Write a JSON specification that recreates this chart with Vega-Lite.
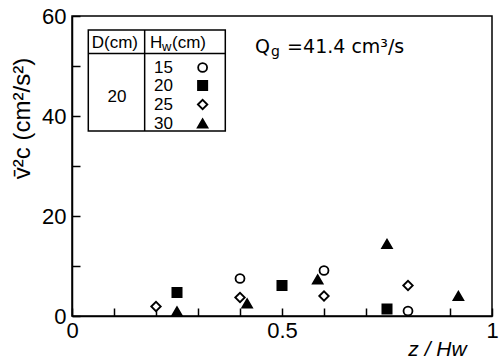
{
  "$schema": "https://vega.github.io/schema/vega-lite/v6.json",
  "width": 420,
  "height": 300,
  "autosize": "none",
  "padding": {"left": 72, "top": 16, "right": 7, "bottom": 48},
  "background": "white",
  "config": {
    "view": {"stroke": "black", "strokeWidth": 1.5},
    "font": "Liberation Sans",
    "legend": {"disable": true},
    "axis": {"grid": false, "domainColor": "black", "domainWidth": 1.5, "tickColor": "black", "tickWidth": 1.5, "labelColor": "black", "titleColor": "black", "labelFlush": false, "labelOverlap": false}
  },
  "datasets": {
    "points": [
      {"Hw": "15", "z": 0.40, "v": 7.5},
      {"Hw": "15", "z": 0.60, "v": 9.1},
      {"Hw": "15", "z": 0.80, "v": 1.0},
      {"Hw": "20", "z": 0.25, "v": 4.7},
      {"Hw": "20", "z": 0.50, "v": 6.1},
      {"Hw": "20", "z": 0.75, "v": 1.4},
      {"Hw": "25", "z": 0.20, "v": 1.9},
      {"Hw": "25", "z": 0.40, "v": 3.7},
      {"Hw": "25", "z": 0.60, "v": 4.0},
      {"Hw": "25", "z": 0.80, "v": 6.1},
      {"Hw": "30", "z": 0.25, "v": 0.9},
      {"Hw": "30", "z": 0.417, "v": 2.5},
      {"Hw": "30", "z": 0.585, "v": 7.3},
      {"Hw": "30", "z": 0.75, "v": 14.4},
      {"Hw": "30", "z": 0.92, "v": 4.0}
    ],
    "one": [{}]
  },
  "layer": [
    {
      "data": {"name": "points"},
      "mark": {"type": "point", "filled": false, "stroke": "black", "strokeWidth": 1.8, "opacity": 1},
      "encoding": {
        "x": {
          "field": "z", "type": "quantitative",
          "scale": {"domain": [0, 1], "nice": false},
          "axis": {
            "values": [0, 0.1, 0.2, 0.3, 0.4, 0.5, 0.6, 0.7, 0.8, 0.9, 1],
            "labelExpr": "datum.value == 0 ? '0' : datum.value == 0.5 ? '0.5' : datum.value == 1 ? '1' : ''",
            "tickSize": -8, "labelPadding": 12, "labelFontSize": 22,
            "title": "z / Hw", "titleFontSize": 21, "titleFontStyle": "italic", "titleFontWeight": "normal",
            "titleX": 365, "titleY": 39, "titleAlign": "center", "titleBaseline": "alphabetic"
          }
        },
        "y": {
          "field": "v", "type": "quantitative",
          "scale": {"domain": [0, 60], "nice": false},
          "axis": {
            "values": [0, 10, 20, 30, 40, 50, 60],
            "labelExpr": "datum.value % 20 == 0 ? datum.label : ''",
            "tickSize": -8, "labelPadding": 14, "labelFontSize": 22,
            "title": "v\u0304\u00b2c (cm\u00b2/s\u00b2)", "titleFontSize": 24, "titleFontWeight": "normal",
            "titleAngle": -90, "titleX": -43, "titleY": 102, "titleAlign": "center", "titleBaseline": "alphabetic"
          }
        },
        "shape": {"field": "Hw", "type": "nominal", "scale": {"domain": ["15", "20", "25", "30"], "range": ["circle", "square", "diamond", "triangle-up"]}},
        "fill": {"field": "Hw", "type": "nominal", "scale": {"domain": ["15", "20", "25", "30"], "range": ["white", "black", "white", "black"]}},
        "size": {"field": "Hw", "type": "nominal", "scale": {"domain": ["15", "20", "25", "30"], "range": [80, 95, 155, 125]}}
      }
    },
    {
      "data": {"name": "one"},
      "mark": {"type": "rect", "fill": "white", "fillOpacity": 0, "stroke": "black", "strokeWidth": 1.5},
      "encoding": {
        "x": {"datum": 0.0388, "type": "quantitative"},
        "x2": {"datum": 0.365},
        "y": {"datum": 57.2, "type": "quantitative"},
        "y2": {"datum": 37.0}
      }
    },
    {
      "data": {"name": "one"},
      "mark": {"type": "rule", "stroke": "black", "strokeWidth": 1.5},
      "encoding": {
        "x": {"datum": 0.0388, "type": "quantitative"},
        "x2": {"datum": 0.365},
        "y": {"datum": 52.5, "type": "quantitative"}
      }
    },
    {
      "data": {"name": "one"},
      "mark": {"type": "rule", "stroke": "black", "strokeWidth": 1.5},
      "encoding": {
        "x": {"datum": 0.173, "type": "quantitative"},
        "y": {"datum": 57.2, "type": "quantitative"},
        "y2": {"datum": 37.0}
      }
    },
    {
      "data": {"name": "one"},
      "mark": {"type": "text", "fontSize": 17, "align": "center", "baseline": "middle", "color": "black"},
      "encoding": {
        "x": {"datum": 0.102, "type": "quantitative"},
        "y": {"datum": 54.6, "type": "quantitative"},
        "text": {"value": "D(cm)"}
      }
    },
    {
      "data": {"name": "one"},
      "mark": {"type": "text", "fontSize": 17, "align": "left", "baseline": "middle", "color": "black", "dx": -32},
      "encoding": {
        "x": {"datum": 0.262, "type": "quantitative"},
        "y": {"datum": 54.6, "type": "quantitative"},
        "text": {"value": "H"}
      }
    },
    {
      "data": {"name": "one"},
      "mark": {"type": "text", "fontSize": 13, "align": "left", "baseline": "middle", "color": "black", "dx": -20, "dy": 4},
      "encoding": {
        "x": {"datum": 0.262, "type": "quantitative"},
        "y": {"datum": 54.6, "type": "quantitative"},
        "text": {"value": "w"}
      }
    },
    {
      "data": {"name": "one"},
      "mark": {"type": "text", "fontSize": 17, "align": "left", "baseline": "middle", "color": "black", "dx": -10},
      "encoding": {
        "x": {"datum": 0.262, "type": "quantitative"},
        "y": {"datum": 54.6, "type": "quantitative"},
        "text": {"value": "(cm)"}
      }
    },
    {
      "data": {"name": "one"},
      "mark": {"type": "text", "fontSize": 17, "align": "center", "baseline": "middle", "color": "black"},
      "encoding": {
        "x": {"datum": 0.107, "type": "quantitative"},
        "y": {"datum": 43.9, "type": "quantitative"},
        "text": {"value": "20"}
      }
    },
    {
      "data": {"name": "one"},
      "encoding": {"y": {"datum": 49.7, "type": "quantitative"}},
      "layer": [
        {"mark": {"type": "text", "fontSize": 17, "align": "center", "baseline": "middle", "color": "black"},
         "encoding": {"x": {"datum": 0.218, "type": "quantitative"}, "text": {"value": "15"}}},
        {"mark": {"type": "point", "filled": false, "stroke": "black", "strokeWidth": 1.8, "opacity": 1},
         "encoding": {"x": {"datum": 0.311, "type": "quantitative"}, "shape": {"datum": "15", "type": "nominal"}, "fill": {"datum": "15", "type": "nominal"}, "size": {"datum": "15", "type": "nominal"}}}
      ]
    },
    {
      "data": {"name": "one"},
      "encoding": {"y": {"datum": 46.1, "type": "quantitative"}},
      "layer": [
        {"mark": {"type": "text", "fontSize": 17, "align": "center", "baseline": "middle", "color": "black"},
         "encoding": {"x": {"datum": 0.218, "type": "quantitative"}, "text": {"value": "20"}}},
        {"mark": {"type": "point", "filled": false, "stroke": "black", "strokeWidth": 1.8, "opacity": 1},
         "encoding": {"x": {"datum": 0.311, "type": "quantitative"}, "shape": {"datum": "20", "type": "nominal"}, "fill": {"datum": "20", "type": "nominal"}, "size": {"datum": "20", "type": "nominal"}}}
      ]
    },
    {
      "data": {"name": "one"},
      "encoding": {"y": {"datum": 42.3, "type": "quantitative"}},
      "layer": [
        {"mark": {"type": "text", "fontSize": 17, "align": "center", "baseline": "middle", "color": "black"},
         "encoding": {"x": {"datum": 0.218, "type": "quantitative"}, "text": {"value": "25"}}},
        {"mark": {"type": "point", "filled": false, "stroke": "black", "strokeWidth": 1.8, "opacity": 1},
         "encoding": {"x": {"datum": 0.311, "type": "quantitative"}, "shape": {"datum": "25", "type": "nominal"}, "fill": {"datum": "25", "type": "nominal"}, "size": {"datum": "25", "type": "nominal"}}}
      ]
    },
    {
      "data": {"name": "one"},
      "encoding": {"y": {"datum": 38.5, "type": "quantitative"}},
      "layer": [
        {"mark": {"type": "text", "fontSize": 17, "align": "center", "baseline": "middle", "color": "black"},
         "encoding": {"x": {"datum": 0.218, "type": "quantitative"}, "text": {"value": "30"}}},
        {"mark": {"type": "point", "filled": false, "stroke": "black", "strokeWidth": 1.8, "opacity": 1},
         "encoding": {"x": {"datum": 0.311, "type": "quantitative"}, "shape": {"datum": "30", "type": "nominal"}, "fill": {"datum": "30", "type": "nominal"}, "size": {"datum": "30", "type": "nominal"}}}
      ]
    },
    {
      "data": {"name": "one"},
      "mark": {"type": "text", "font": "DejaVu Sans", "fontSize": 19, "align": "left", "baseline": "alphabetic", "color": "black"},
      "encoding": {
        "x": {"datum": 0.436, "type": "quantitative"},
        "y": {"datum": 52.6, "type": "quantitative"},
        "text": {"value": "Q"}
      }
    },
    {
      "data": {"name": "one"},
      "mark": {"type": "text", "font": "DejaVu Sans", "fontSize": 14, "align": "left", "baseline": "alphabetic", "color": "black", "dx": 16, "dy": 3},
      "encoding": {
        "x": {"datum": 0.436, "type": "quantitative"},
        "y": {"datum": 52.6, "type": "quantitative"},
        "text": {"value": "g"}
      }
    },
    {
      "data": {"name": "one"},
      "mark": {"type": "text", "font": "DejaVu Sans", "fontSize": 19, "align": "left", "baseline": "alphabetic", "color": "black", "dx": 32},
      "encoding": {
        "x": {"datum": 0.436, "type": "quantitative"},
        "y": {"datum": 52.6, "type": "quantitative"},
        "text": {"value": "=41.4 cm\u00b3/s"}
      }
    }
  ]
}
